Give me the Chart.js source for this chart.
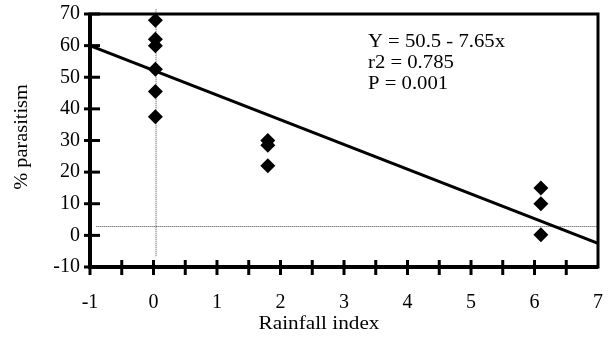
<!DOCTYPE html>
<html lang="en">
<head>
    <meta charset="UTF-8">
    <title>Parasitism vs rainfall</title>
    <script src="https://cdn.jsdelivr.net/npm/chart.js"></script>
    <style>
        html, body { margin: 0; padding: 0; background: #fff; }
        #box { width: 610px; height: 339px; }
    </style>
</head>
<body>
    <div id="box"><canvas id="grafico"></canvas></div>

<script>
    // values
    const rainfall = [0.03, 0.03, 0.03, 0.03, 0.03, 0.03, 1.8, 1.8, 1.8, 6.1, 6.1, 6.1];
    const parasitism = [68, 62, 60, 52.5, 45.5, 37.5, 30, 28.5, 22, 15, 10, 0.2];

    const fitX = [-1, 7];
    const fitY = [60, -2.5];

    const refVertX = [0.04, 0.04];
    const refVertY = [71.5, -6.8];
    const refHorzX = [-0.9, 7];
    const refHorzY = [2.8, 2.8];

    const xRange = [-1, 7];
    const yRange = [-10, 70];

    const stats = ["Y = 50.5 - 7.65x", "r2 = 0.785", "P = 0.001"];

    const serif = "'Liberation Serif', 'DejaVu Serif', serif";

    function pares(xs, ys) {
        return xs.map((x, i) => ({ x: x, y: ys[i] }));
    }

    // wide old serif look: stretch text along its run
    function textoLargo(ctx, txt, x, y, esticar) {
        ctx.save();
        ctx.translate(x, y);
        ctx.scale(esticar, 1);
        ctx.fillText(txt, 0, 0);
        ctx.restore();
    }

    // frame, crossing tick marks, equation text, axis titles
    const moldura = {
        id: 'moldura',
        afterDraw(chart) {
            const ctx = chart.ctx;
            const area = chart.chartArea;
            const sx = chart.scales.x;
            const sy = chart.scales.y;
            ctx.save();
            ctx.strokeStyle = '#000';

            ctx.lineWidth = 3;
            ctx.strokeRect(area.left, area.top, area.right - area.left, area.bottom - area.top);
            ctx.lineWidth = 4;
            ctx.beginPath();
            ctx.moveTo(area.left, area.top);
            ctx.lineTo(area.left, area.bottom);
            ctx.lineTo(area.right, area.bottom);
            ctx.stroke();

            ctx.lineWidth = 3;
            sy.ticks.forEach(t => {
                const py = sy.getPixelForValue(t.value);
                const longo = t.value % 10 === 0;
                ctx.beginPath();
                ctx.moveTo(area.left - 6, py);
                ctx.lineTo(area.left + (longo ? 10 : 7), py);
                ctx.stroke();
            });
            sx.ticks.forEach(t => {
                const px = sx.getPixelForValue(t.value);
                if (px > area.right - 2) return;
                ctx.beginPath();
                ctx.moveTo(px, area.bottom - 7);
                ctx.lineTo(px, area.bottom + 8);
                ctx.stroke();
            });

            ctx.fillStyle = '#000';
            ctx.font = '18px ' + serif;
            ctx.textBaseline = 'middle';
            ctx.textAlign = 'left';
            stats.forEach((linha, i) => {
                textoLargo(ctx, linha, 368, 42 + i * 21, 1.15);
            });

            ctx.textAlign = 'center';
            textoLargo(ctx, 'Rainfall index', 319, 324, 1.18);

            ctx.save();
            ctx.translate(22, 137);
            ctx.rotate(-Math.PI / 2);
            textoLargo(ctx, '% parasitism', 0, 0, 1.13);
            ctx.restore();

            ctx.restore();
        }
    };

    new Chart(document.getElementById('grafico'), {
        type: 'scatter',
        data: {
            datasets: [
                {
                    label: 'pontos',
                    data: pares(rainfall, parasitism),
                    pointStyle: 'rectRot',
                    pointRadius: 7.5,
                    backgroundColor: '#000',
                    borderColor: '#000',
                    borderWidth: 0,
                    order: 0
                },
                {
                    label: 'ajuste',
                    data: pares(fitX, fitY),
                    showLine: true,
                    pointRadius: 0,
                    borderColor: '#000',
                    borderWidth: 3,
                    order: 1
                },
                {
                    label: 'ref vertical',
                    data: pares(refVertX, refVertY),
                    showLine: true,
                    pointRadius: 0,
                    borderColor: '#444',
                    borderWidth: 1,
                    borderDash: [1, 1],
                    clip: false,
                    order: 2
                },
                {
                    label: 'ref horizontal',
                    data: pares(refHorzX, refHorzY),
                    showLine: true,
                    pointRadius: 0,
                    borderColor: '#444',
                    borderWidth: 1,
                    borderDash: [1, 1],
                    order: 2
                }
            ]
        },
        options: {
            responsive: true,
            maintainAspectRatio: false,
            animation: false,
            layout: { padding: { top: 14, right: 12, left: 0, bottom: 0 } },
            plugins: {
                legend: { display: false },
                tooltip: { enabled: false }
            },
            scales: {
                x: {
                    type: 'linear',
                    min: xRange[0],
                    max: xRange[1],
                    afterFit: s => {
                        s.height = 72;
                        s.paddingLeft = 0;
                        s.paddingRight = 0;
                    },
                    grid: { display: false, drawTicks: false },
                    border: { display: false },
                    ticks: {
                        stepSize: 0.5,
                        padding: 24,
                        color: '#000',
                        font: { family: serif, size: 20 },
                        callback: v => (Number.isInteger(v) ? v : '')
                    }
                },
                y: {
                    type: 'linear',
                    min: yRange[0],
                    max: yRange[1],
                    afterFit: s => {
                        s.width = 90;
                        s.paddingTop = 0;
                        s.paddingBottom = 0;
                    },
                    grid: { display: false, drawTicks: false },
                    border: { display: false },
                    ticks: {
                        stepSize: 5,
                        padding: 10,
                        color: '#000',
                        font: { family: serif, size: 20 },
                        callback: v => (v % 10 === 0 ? v : '')
                    }
                }
            }
        },
        plugins: [moldura]
    });
</script>
</body>
</html>
